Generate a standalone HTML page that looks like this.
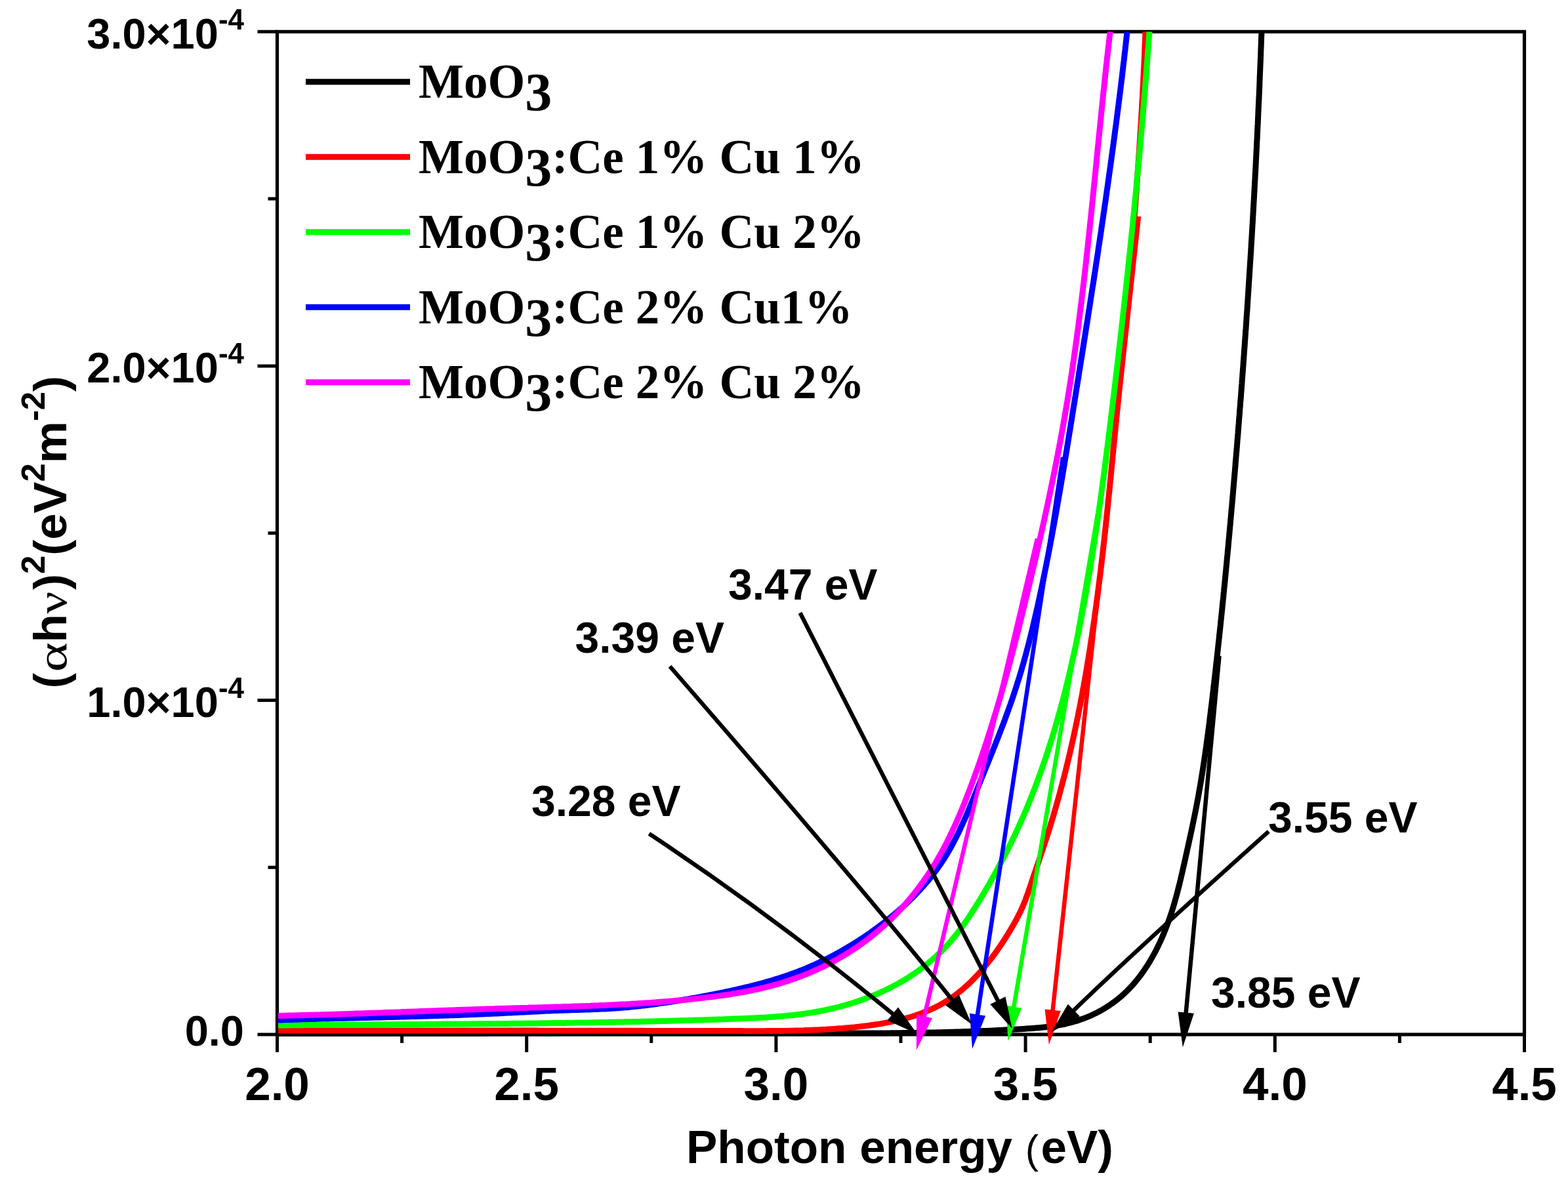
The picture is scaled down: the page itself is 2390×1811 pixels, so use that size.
<!DOCTYPE html><html><head><meta charset="utf-8"><style>html,body{margin:0;padding:0;background:#fff;}svg{display:block;}.s{font-family:"Liberation Sans",Arial,sans-serif;font-weight:bold;}.t{font-family:"Liberation Serif","Times New Roman",serif;font-weight:bold;}</style></head><body>
<svg width="2390" height="1811" viewBox="0 0 2390 1811">
<rect width="2390" height="1811" fill="#fff"/>
<rect x="422.5" y="48.3" width="1901.0" height="1528.7" fill="none" stroke="#000" stroke-width="5.2"/>
<path d="M422.5,1577.0V1604.0 M612.6,1577.0V1590.0 M802.7,1577.0V1604.0 M992.8,1577.0V1590.0 M1182.9,1577.0V1604.0 M1373.0,1577.0V1590.0 M1563.1,1577.0V1604.0 M1753.2,1577.0V1590.0 M1943.3,1577.0V1604.0 M2133.4,1577.0V1590.0 M2323.5,1577.0V1604.0 M422.5,1577.0H392.5 M422.5,1322.2H408.5 M422.5,1067.4H392.5 M422.5,812.7H408.5 M422.5,557.9H392.5 M422.5,303.1H408.5 M422.5,48.3H392.5" stroke="#000" stroke-width="5" fill="none"/>
<defs><clipPath id="pc"><rect x="422.5" y="48.3" width="1901.0" height="1568.7"/></clipPath></defs>
<g clip-path="url(#pc)" fill="none" stroke-linejoin="round" stroke-linecap="butt">
<path d="M424.0,1575.5 L428.7,1575.5 L433.4,1575.5 L438.0,1575.5 L442.7,1575.5 L447.4,1575.5 L452.0,1575.5 L456.7,1575.5 L461.4,1575.5 L466.1,1575.5 L470.7,1575.5 L475.4,1575.5 L480.1,1575.5 L484.7,1575.6 L489.4,1575.6 L494.1,1575.6 L498.8,1575.6 L503.4,1575.6 L508.1,1575.6 L512.8,1575.6 L517.5,1575.6 L522.1,1575.6 L526.8,1575.6 L531.5,1575.6 L536.2,1575.6 L540.8,1575.6 L545.5,1575.6 L550.2,1575.6 L554.9,1575.6 L559.5,1575.6 L564.2,1575.6 L568.9,1575.6 L573.6,1575.6 L578.2,1575.6 L582.9,1575.6 L587.6,1575.6 L592.3,1575.6 L596.9,1575.5 L601.6,1575.5 L606.3,1575.5 L611.0,1575.5 L615.6,1575.5 L620.3,1575.5 L625.0,1575.5 L629.7,1575.5 L634.3,1575.5 L639.0,1575.5 L643.7,1575.5 L648.4,1575.5 L653.0,1575.5 L657.7,1575.5 L662.4,1575.5 L667.1,1575.5 L671.8,1575.5 L676.4,1575.5 L681.1,1575.5 L685.8,1575.4 L690.5,1575.4 L695.1,1575.4 L699.8,1575.4 L704.5,1575.4 L709.2,1575.4 L713.8,1575.4 L718.5,1575.4 L723.2,1575.4 L727.9,1575.4 L732.6,1575.4 L737.2,1575.4 L741.9,1575.4 L746.6,1575.3 L751.3,1575.3 L755.9,1575.3 L760.6,1575.3 L765.3,1575.3 L770.0,1575.3 L774.7,1575.3 L779.3,1575.3 L784.0,1575.3 L788.7,1575.3 L793.4,1575.3 L798.0,1575.2 L802.7,1575.2 L807.4,1575.2 L812.1,1575.2 L816.8,1575.2 L821.4,1575.2 L826.1,1575.2 L830.8,1575.2 L835.5,1575.2 L840.1,1575.2 L844.8,1575.2 L849.5,1575.2 L854.2,1575.1 L858.8,1575.1 L863.5,1575.1 L868.2,1575.1 L872.9,1575.1 L877.6,1575.1 L882.2,1575.1 L886.9,1575.1 L891.6,1575.1 L896.3,1575.1 L900.9,1575.1 L905.6,1575.1 L910.3,1575.0 L915.0,1575.0 L919.7,1575.0 L924.3,1575.0 L929.0,1575.0 L933.7,1575.0 L938.4,1575.0 L943.0,1575.0 L947.7,1575.0 L952.4,1575.0 L957.1,1575.0 L961.7,1575.0 L966.4,1575.0 L971.1,1575.0 L975.8,1575.0 L980.4,1574.9 L985.1,1574.9 L989.8,1574.9 L994.5,1574.9 L999.1,1574.9 L1003.8,1574.9 L1008.5,1574.9 L1013.2,1574.9 L1017.9,1574.9 L1022.5,1574.9 L1027.2,1574.9 L1031.9,1574.9 L1036.6,1574.9 L1041.2,1574.9 L1045.9,1574.9 L1050.6,1574.9 L1055.3,1574.9 L1059.9,1574.9 L1064.6,1574.9 L1069.3,1574.9 L1074.0,1574.9 L1078.6,1574.9 L1083.3,1574.9 L1088.0,1574.9 L1092.6,1574.9 L1097.3,1574.9 L1102.0,1574.9 L1106.7,1574.9 L1111.3,1574.9 L1116.0,1574.9 L1120.7,1574.9 L1125.4,1574.9 L1130.0,1574.9 L1134.7,1574.9 L1139.4,1574.9 L1144.1,1574.9 L1148.7,1574.9 L1153.4,1574.9 L1158.1,1574.9 L1162.7,1574.9 L1167.4,1574.9 L1172.1,1574.9 L1176.8,1575.0 L1181.4,1575.0 L1186.1,1575.0 L1190.8,1575.0 L1195.4,1575.0 L1200.1,1575.0 L1204.8,1575.0 L1209.5,1575.0 L1214.1,1575.0 L1218.8,1575.0 L1223.5,1575.0 L1228.1,1575.1 L1232.8,1575.1 L1237.5,1575.1 L1242.1,1575.1 L1246.8,1575.1 L1251.5,1575.1 L1256.2,1575.1 L1260.8,1575.1 L1265.5,1575.1 L1270.2,1575.1 L1274.8,1575.1 L1279.5,1575.1 L1284.2,1575.1 L1288.8,1575.1 L1293.5,1575.1 L1298.2,1575.1 L1302.9,1575.1 L1307.5,1575.1 L1312.2,1575.1 L1316.9,1575.1 L1321.5,1575.1 L1326.2,1575.0 L1330.9,1575.0 L1335.6,1575.0 L1340.2,1575.0 L1344.9,1574.9 L1349.6,1574.9 L1354.2,1574.9 L1358.9,1574.8 L1363.6,1574.8 L1368.3,1574.7 L1372.9,1574.7 L1377.6,1574.6 L1382.3,1574.6 L1387.0,1574.5 L1391.6,1574.4 L1396.3,1574.4 L1401.0,1574.3 L1405.7,1574.2 L1410.4,1574.1 L1415.0,1574.1 L1419.7,1574.0 L1424.4,1573.9 L1429.1,1573.8 L1433.7,1573.7 L1438.4,1573.5 L1443.1,1573.4 L1447.8,1573.3 L1452.5,1573.2 L1457.2,1573.0 L1461.8,1572.9 L1466.5,1572.8 L1471.2,1572.6 L1475.9,1572.4 L1480.6,1572.3 L1485.3,1572.1 L1490.0,1571.9 L1494.6,1571.7 L1499.3,1571.6 L1504.0,1571.4 L1508.7,1571.2 L1513.4,1570.9 L1518.1,1570.7 L1522.8,1570.5 L1527.5,1570.3 L1532.2,1570.0 L1536.9,1569.8 L1541.6,1569.5 L1546.3,1569.3 L1551.0,1569.0 L1555.7,1568.7 L1560.4,1568.4 L1565.1,1568.1 L1569.8,1567.8 L1574.5,1567.4 L1579.1,1567.1 L1583.8,1566.7 L1588.5,1566.2 L1593.1,1565.7 L1597.8,1565.2 L1602.4,1564.6 L1607.0,1563.9 L1611.6,1563.2 L1616.2,1562.3 L1620.7,1561.5 L1625.3,1560.5 L1629.8,1559.4 L1634.2,1558.2 L1638.7,1557.0 L1643.1,1555.6 L1647.5,1554.1 L1651.8,1552.6 L1656.1,1550.9 L1660.4,1549.1 L1664.6,1547.3 L1668.7,1545.3 L1672.9,1543.2 L1676.9,1541.1 L1680.9,1538.8 L1684.9,1536.4 L1688.8,1534.0 L1692.6,1531.4 L1696.3,1528.8 L1700.0,1526.1 L1703.6,1523.2 L1707.2,1520.3 L1710.7,1517.3 L1714.0,1514.2 L1717.4,1511.0 L1720.6,1507.8 L1723.8,1504.4 L1726.9,1501.0 L1729.9,1497.5 L1732.9,1493.9 L1735.8,1490.3 L1738.6,1486.6 L1741.3,1482.8 L1744.0,1479.0 L1746.6,1475.1 L1749.2,1471.2 L1751.7,1467.2 L1754.1,1463.1 L1756.4,1459.0 L1758.7,1454.9 L1761.0,1450.7 L1763.1,1446.5 L1765.2,1442.2 L1767.3,1437.9 L1769.3,1433.6 L1771.2,1429.3 L1773.1,1424.9 L1774.9,1420.5 L1776.7,1416.1 L1778.4,1411.7 L1780.1,1407.2 L1781.7,1402.8 L1783.2,1398.3 L1784.7,1393.8 L1786.2,1389.3 L1787.6,1384.9 L1788.9,1380.4 L1790.3,1375.9 L1791.5,1371.4 L1792.8,1366.9 L1794.0,1362.4 L1795.2,1357.9 L1796.3,1353.4 L1797.5,1348.8 L1798.6,1344.3 L1799.7,1339.8 L1800.7,1335.3 L1801.8,1330.7 L1802.8,1326.2 L1803.8,1321.7 L1804.9,1317.1 L1805.9,1312.6 L1806.9,1308.1 L1807.9,1303.5 L1808.9,1299.0 L1809.9,1294.4 L1810.9,1289.9 L1811.9,1285.3 L1812.9,1280.8 L1813.9,1276.2 L1814.9,1271.7 L1815.9,1267.1 L1816.9,1262.6 L1817.8,1258.0 L1818.8,1253.4 L1819.7,1248.9 L1820.6,1244.3 L1821.6,1239.7 L1822.5,1235.2 L1823.4,1230.6 L1824.2,1226.0 L1825.1,1221.4 L1826.0,1216.8 L1826.8,1212.2 L1827.6,1207.6 L1828.4,1203.0 L1829.2,1198.4 L1830.0,1193.8 L1830.8,1189.2 L1831.5,1184.6 L1832.3,1180.0 L1833.0,1175.4 L1833.7,1170.8 L1834.4,1166.2 L1835.1,1161.6 L1835.8,1156.9 L1836.5,1152.3 L1837.2,1147.7 L1837.8,1143.1 L1838.5,1138.4 L1839.1,1133.8 L1839.7,1129.2 L1840.3,1124.5 L1841.0,1119.9 L1841.6,1115.3 L1842.2,1110.6 L1842.8,1106.0 L1843.4,1101.4 L1843.9,1096.7 L1844.5,1092.1 L1845.1,1087.4 L1845.6,1082.8 L1846.2,1078.1 L1846.8,1073.5 L1847.3,1068.9 L1847.9,1064.2 L1848.4,1059.6 L1849.0,1054.9 L1849.5,1050.3 L1850.0,1045.6 L1850.6,1041.0 L1851.1,1036.3 L1851.6,1031.7 L1852.2,1027.0 L1852.7,1022.4 L1853.2,1017.7 L1853.7,1013.1 L1854.2,1008.5 L1854.8,1003.8 L1855.3,999.2 L1855.8,994.5 L1856.3,989.9 L1856.8,985.2 L1857.3,980.6 L1857.8,975.9 L1858.3,971.3 L1858.8,966.6 L1859.3,962.0 L1859.8,957.3 L1860.3,952.7 L1860.7,948.0 L1861.2,943.4 L1861.7,938.7 L1862.2,934.1 L1862.7,929.4 L1863.1,924.8 L1863.6,920.1 L1864.1,915.5 L1864.6,910.8 L1865.0,906.1 L1865.5,901.5 L1865.9,896.8 L1866.4,892.2 L1866.9,887.5 L1867.3,882.9 L1867.8,878.2 L1868.2,873.6 L1868.7,868.9 L1869.1,864.3 L1869.6,859.6 L1870.0,855.0 L1870.4,850.3 L1870.9,845.7 L1871.3,841.0 L1871.8,836.3 L1872.2,831.7 L1872.6,827.0 L1873.0,822.4 L1873.5,817.7 L1873.9,813.1 L1874.3,808.4 L1874.7,803.8 L1875.2,799.1 L1875.6,794.4 L1876.0,789.8 L1876.4,785.1 L1876.8,780.5 L1877.2,775.8 L1877.7,771.2 L1878.1,766.5 L1878.5,761.8 L1878.9,757.2 L1879.3,752.5 L1879.7,747.9 L1880.1,743.2 L1880.5,738.6 L1880.9,733.9 L1881.3,729.2 L1881.7,724.6 L1882.1,719.9 L1882.5,715.3 L1882.9,710.6 L1883.2,705.9 L1883.6,701.3 L1884.0,696.6 L1884.4,692.0 L1884.8,687.3 L1885.2,682.7 L1885.6,678.0 L1885.9,673.3 L1886.3,668.7 L1886.7,664.0 L1887.1,659.4 L1887.4,654.7 L1887.8,650.0 L1888.2,645.4 L1888.5,640.7 L1888.9,636.1 L1889.3,631.4 L1889.6,626.7 L1890.0,622.1 L1890.4,617.4 L1890.7,612.7 L1891.1,608.1 L1891.5,603.4 L1891.8,598.8 L1892.2,594.1 L1892.5,589.4 L1892.9,584.8 L1893.2,580.1 L1893.6,575.5 L1893.9,570.8 L1894.3,566.1 L1894.6,561.5 L1895.0,556.8 L1895.3,552.1 L1895.6,547.5 L1896.0,542.8 L1896.3,538.2 L1896.6,533.5 L1897.0,528.8 L1897.3,524.2 L1897.6,519.5 L1898.0,514.8 L1898.3,510.2 L1898.6,505.5 L1899.0,500.9 L1899.3,496.2 L1899.6,491.5 L1899.9,486.9 L1900.2,482.2 L1900.6,477.5 L1900.9,472.9 L1901.2,468.2 L1901.5,463.5 L1901.8,458.9 L1902.1,454.2 L1902.4,449.5 L1902.7,444.9 L1903.0,440.2 L1903.3,435.5 L1903.6,430.9 L1903.9,426.2 L1904.2,421.6 L1904.5,416.9 L1904.8,412.2 L1905.1,407.6 L1905.4,402.9 L1905.7,398.2 L1906.0,393.6 L1906.3,388.9 L1906.6,384.2 L1906.9,379.6 L1907.1,374.9 L1907.4,370.2 L1907.7,365.6 L1908.0,360.9 L1908.3,356.2 L1908.5,351.6 L1908.8,346.9 L1909.1,342.2 L1909.4,337.6 L1909.6,332.9 L1909.9,328.2 L1910.2,323.6 L1910.4,318.9 L1910.7,314.2 L1910.9,309.6 L1911.2,304.9 L1911.5,300.2 L1911.7,295.5 L1912.0,290.9 L1912.2,286.2 L1912.5,281.5 L1912.7,276.9 L1913.0,272.2 L1913.2,267.5 L1913.5,262.9 L1913.7,258.2 L1914.0,253.5 L1914.2,248.9 L1914.4,244.2 L1914.7,239.5 L1914.9,234.9 L1915.1,230.2 L1915.4,225.5 L1915.6,220.8 L1915.8,216.2 L1916.1,211.5 L1916.3,206.8 L1916.5,202.2 L1916.7,197.5 L1916.9,192.8 L1917.2,188.2 L1917.4,183.5 L1917.6,178.8 L1917.8,174.1 L1918.0,169.5 L1918.2,164.8 L1918.4,160.1 L1918.6,155.5 L1918.9,150.8 L1919.1,146.1 L1919.3,141.4 L1919.5,136.8 L1919.7,132.1 L1919.9,127.4 L1920.0,122.8 L1920.2,118.1 L1920.4,113.4 L1920.6,108.7 L1920.8,104.1 L1921.0,99.4 L1921.2,94.7 L1921.4,90.1 L1921.6,85.4 L1921.7,80.7 L1921.9,76.0 L1922.1,71.4 L1922.3,66.7 L1922.4,62.0 L1922.6,57.3 L1922.8,52.7 L1922.9,48.0" stroke="#000000" stroke-width="9.0"/>
<path d="M424.0,1571.0 L428.3,1571.0 L432.6,1571.0 L436.9,1571.0 L441.1,1571.0 L445.4,1571.0 L449.7,1571.0 L454.0,1571.0 L458.3,1571.0 L462.6,1571.0 L466.8,1571.0 L471.1,1571.0 L475.4,1571.0 L479.7,1571.0 L484.0,1571.0 L488.3,1571.0 L492.5,1571.0 L496.8,1571.0 L501.1,1571.0 L505.4,1571.0 L509.7,1571.0 L514.0,1571.0 L518.2,1571.0 L522.5,1571.0 L526.8,1571.0 L531.1,1571.0 L535.4,1571.0 L539.7,1571.0 L543.9,1571.0 L548.2,1571.0 L552.5,1571.0 L556.8,1571.0 L561.1,1571.0 L565.4,1571.0 L569.7,1571.0 L573.9,1571.0 L578.2,1571.0 L582.5,1571.0 L586.8,1571.0 L591.1,1571.0 L595.4,1571.0 L599.6,1571.0 L603.9,1571.0 L608.2,1571.0 L612.5,1571.0 L616.8,1571.0 L621.1,1571.0 L625.3,1571.0 L629.6,1571.0 L633.9,1571.0 L638.2,1571.0 L642.5,1571.0 L646.8,1571.0 L651.1,1571.0 L655.3,1571.0 L659.6,1571.1 L663.9,1571.1 L668.2,1571.1 L672.5,1571.1 L676.8,1571.1 L681.0,1571.1 L685.3,1571.1 L689.6,1571.1 L693.9,1571.1 L698.2,1571.1 L702.5,1571.1 L706.7,1571.1 L711.0,1571.1 L715.3,1571.1 L719.6,1571.1 L723.9,1571.1 L728.2,1571.1 L732.5,1571.1 L736.7,1571.1 L741.0,1571.1 L745.3,1571.1 L749.6,1571.1 L753.9,1571.1 L758.2,1571.1 L762.4,1571.1 L766.7,1571.1 L771.0,1571.1 L775.3,1571.1 L779.6,1571.1 L783.9,1571.1 L788.2,1571.1 L792.4,1571.1 L796.7,1571.1 L801.0,1571.1 L805.3,1571.1 L809.6,1571.1 L813.9,1571.1 L818.1,1571.1 L822.4,1571.2 L826.7,1571.2 L831.0,1571.2 L835.3,1571.2 L839.6,1571.2 L843.9,1571.2 L848.1,1571.2 L852.4,1571.2 L856.7,1571.2 L861.0,1571.2 L865.3,1571.2 L869.6,1571.2 L873.8,1571.2 L878.1,1571.2 L882.4,1571.2 L886.7,1571.2 L891.0,1571.2 L895.3,1571.2 L899.5,1571.2 L903.8,1571.2 L908.1,1571.2 L912.4,1571.2 L916.7,1571.3 L921.0,1571.3 L925.3,1571.3 L929.5,1571.3 L933.8,1571.3 L938.1,1571.3 L942.4,1571.3 L946.7,1571.3 L951.0,1571.3 L955.2,1571.3 L959.5,1571.3 L963.8,1571.3 L968.1,1571.3 L972.4,1571.3 L976.7,1571.3 L980.9,1571.3 L985.2,1571.4 L989.5,1571.4 L993.8,1571.4 L998.1,1571.4 L1002.4,1571.4 L1006.6,1571.4 L1010.9,1571.4 L1015.2,1571.4 L1019.5,1571.4 L1023.8,1571.4 L1028.1,1571.4 L1032.3,1571.4 L1036.6,1571.4 L1040.9,1571.4 L1045.2,1571.5 L1049.5,1571.5 L1053.8,1571.5 L1058.0,1571.5 L1062.3,1571.5 L1066.6,1571.5 L1070.9,1571.5 L1075.2,1571.5 L1079.5,1571.5 L1083.7,1571.5 L1088.0,1571.5 L1092.3,1571.6 L1096.6,1571.6 L1100.9,1571.6 L1105.2,1571.6 L1109.4,1571.6 L1113.7,1571.6 L1118.0,1571.6 L1122.3,1571.6 L1126.6,1571.6 L1130.9,1571.6 L1135.1,1571.7 L1139.4,1571.7 L1143.7,1571.7 L1148.0,1571.7 L1152.3,1571.7 L1156.6,1571.7 L1160.8,1571.7 L1165.1,1571.7 L1169.4,1571.6 L1173.7,1571.6 L1178.0,1571.6 L1182.2,1571.6 L1186.5,1571.5 L1190.8,1571.5 L1195.1,1571.4 L1199.4,1571.4 L1203.7,1571.3 L1207.9,1571.2 L1212.2,1571.1 L1216.5,1571.0 L1220.8,1570.9 L1225.1,1570.8 L1229.3,1570.6 L1233.6,1570.5 L1237.9,1570.3 L1242.2,1570.1 L1246.5,1569.9 L1250.7,1569.7 L1255.0,1569.5 L1259.3,1569.3 L1263.6,1569.0 L1267.9,1568.7 L1272.2,1568.4 L1276.4,1568.1 L1280.7,1567.8 L1285.0,1567.5 L1289.3,1567.1 L1293.6,1566.7 L1297.8,1566.3 L1302.1,1565.9 L1306.4,1565.4 L1310.7,1564.9 L1314.9,1564.4 L1319.2,1563.9 L1323.5,1563.4 L1327.8,1562.8 L1332.0,1562.2 L1336.3,1561.5 L1340.6,1560.9 L1344.8,1560.2 L1349.0,1559.4 L1353.2,1558.6 L1357.5,1557.8 L1361.6,1556.9 L1365.8,1556.0 L1370.0,1555.0 L1374.1,1554.0 L1378.2,1553.0 L1382.3,1551.9 L1386.4,1550.7 L1390.5,1549.5 L1394.5,1548.2 L1398.5,1546.8 L1402.5,1545.4 L1406.4,1543.9 L1410.3,1542.4 L1414.2,1540.8 L1418.1,1539.1 L1421.9,1537.4 L1425.7,1535.6 L1429.4,1533.7 L1433.1,1531.7 L1436.8,1529.6 L1440.4,1527.5 L1444.0,1525.3 L1447.5,1523.0 L1451.0,1520.6 L1454.5,1518.2 L1457.9,1515.6 L1461.2,1513.0 L1464.6,1510.3 L1467.8,1507.6 L1471.1,1504.7 L1474.3,1501.9 L1477.4,1498.9 L1480.5,1495.9 L1483.6,1492.8 L1486.6,1489.7 L1489.6,1486.6 L1492.5,1483.4 L1495.4,1480.1 L1498.3,1476.8 L1501.1,1473.4 L1503.9,1470.1 L1506.6,1466.6 L1509.3,1463.2 L1512.0,1459.7 L1514.6,1456.2 L1517.2,1452.7 L1519.7,1449.1 L1522.2,1445.5 L1524.7,1441.9 L1527.1,1438.3 L1529.5,1434.7 L1531.8,1431.1 L1534.1,1427.4 L1536.4,1423.8 L1538.6,1420.1 L1540.8,1416.5 L1542.9,1412.8 L1545.0,1409.2 L1547.1,1405.5 L1549.1,1401.8 L1551.0,1398.2 L1552.9,1394.4 L1554.8,1390.7 L1556.6,1386.9 L1558.3,1383.2 L1559.9,1379.3 L1561.5,1375.5 L1563.1,1371.6 L1564.5,1367.6 L1566.0,1363.7 L1567.4,1359.7 L1568.7,1355.7 L1570.1,1351.7 L1571.5,1347.6 L1572.8,1343.6 L1574.2,1339.5 L1575.5,1335.5 L1576.9,1331.4 L1578.3,1327.4 L1579.7,1323.3 L1581.1,1319.2 L1582.5,1315.2 L1583.9,1311.1 L1585.2,1307.0 L1586.6,1302.9 L1588.0,1298.8 L1589.4,1294.8 L1590.7,1290.7 L1592.1,1286.6 L1593.4,1282.5 L1594.8,1278.4 L1596.1,1274.3 L1597.4,1270.2 L1598.7,1266.1 L1600.0,1262.0 L1601.2,1257.8 L1602.5,1253.7 L1603.7,1249.6 L1605.0,1245.5 L1606.2,1241.4 L1607.4,1237.3 L1608.6,1233.1 L1609.8,1229.0 L1610.9,1224.9 L1612.1,1220.7 L1613.3,1216.6 L1614.4,1212.5 L1615.5,1208.3 L1616.6,1204.2 L1617.7,1200.1 L1618.8,1195.9 L1619.9,1191.8 L1621.0,1187.6 L1622.1,1183.5 L1623.1,1179.3 L1624.2,1175.2 L1625.2,1171.0 L1626.2,1166.9 L1627.2,1162.7 L1628.2,1158.5 L1629.2,1154.4 L1630.2,1150.2 L1631.2,1146.0 L1632.1,1141.9 L1633.1,1137.7 L1634.0,1133.5 L1635.0,1129.3 L1635.9,1125.2 L1636.8,1121.0 L1637.7,1116.8 L1638.6,1112.6 L1639.5,1108.4 L1640.4,1104.3 L1641.2,1100.1 L1642.1,1095.9 L1643.0,1091.7 L1643.8,1087.5 L1644.6,1083.3 L1645.5,1079.1 L1646.3,1074.9 L1647.1,1070.7 L1647.9,1066.5 L1648.7,1062.3 L1649.5,1058.1 L1650.2,1053.9 L1651.0,1049.7 L1651.8,1045.5 L1652.5,1041.3 L1653.3,1037.1 L1654.0,1032.9 L1654.8,1028.6 L1655.5,1024.4 L1656.2,1020.2 L1656.9,1016.0 L1657.6,1011.8 L1658.3,1007.6 L1659.0,1003.3 L1659.7,999.1 L1660.3,994.9 L1661.0,990.7 L1661.7,986.4 L1662.3,982.2 L1663.0,978.0 L1663.6,973.7 L1664.3,969.5 L1664.9,965.3 L1665.5,961.1 L1666.1,956.8 L1666.7,952.6 L1667.4,948.3 L1668.0,944.1 L1668.5,939.9 L1669.1,935.6 L1669.7,931.4 L1670.3,927.1 L1670.9,922.9 L1671.4,918.7 L1672.0,914.4 L1672.6,910.2 L1673.1,905.9 L1673.7,901.7 L1674.2,897.4 L1674.7,893.2 L1675.3,888.9 L1675.8,884.7 L1676.3,880.4 L1676.9,876.2 L1677.4,871.9 L1677.9,867.7 L1678.4,863.4 L1678.9,859.2 L1679.4,854.9 L1679.9,850.6 L1680.4,846.4 L1680.9,842.1 L1681.4,837.9 L1681.8,833.6 L1682.3,829.4 L1682.8,825.1 L1683.3,820.8 L1683.7,816.6 L1684.2,812.3 L1684.7,808.1 L1685.1,803.8 L1685.6,799.5 L1686.0,795.3 L1686.5,791.0 L1686.9,786.7 L1687.4,782.5 L1687.8,778.2 L1688.3,773.9 L1688.7,769.7 L1689.1,765.4 L1689.6,761.1 L1690.0,756.9 L1690.4,752.6 L1690.9,748.4 L1691.3,744.1 L1691.7,739.8 L1692.1,735.5 L1692.6,731.3 L1693.0,727.0 L1693.4,722.7 L1693.8,718.5 L1694.2,714.2 L1694.6,709.9 L1695.1,705.7 L1695.5,701.4 L1695.9,697.1 L1696.3,692.9 L1696.7,688.6 L1697.1,684.3 L1697.5,680.1 L1698.0,675.8 L1698.4,671.5 L1698.8,667.3 L1699.2,663.0 L1699.6,658.7 L1700.0,654.5 L1700.4,650.2 L1700.8,645.9 L1701.2,641.7 L1701.6,637.4 L1702.1,633.1 L1702.5,628.9 L1702.9,624.6 L1703.3,620.3 L1703.7,616.1 L1704.1,611.8 L1704.5,607.5 L1704.9,603.3 L1705.3,599.0 L1705.7,594.7 L1706.1,590.5 L1706.5,586.2 L1706.9,581.9 L1707.3,577.7 L1707.8,573.4 L1708.2,569.1 L1708.6,564.9 L1709.0,560.6 L1709.4,556.3 L1709.8,552.1 L1710.2,547.8 L1710.6,543.5 L1711.0,539.3 L1711.4,535.0 L1711.8,530.8 L1712.2,526.5 L1712.6,522.2 L1712.9,518.0 L1713.3,513.7 L1713.7,509.4 L1714.1,505.2 L1714.5,500.9 L1714.9,496.6 L1715.3,492.4 L1715.7,488.1 L1716.1,483.8 L1716.5,479.6 L1716.8,475.3 L1717.2,471.0 L1717.6,466.8 L1718.0,462.5 L1718.4,458.2 L1718.8,454.0 L1719.1,449.7 L1719.5,445.4 L1719.9,441.2 L1720.3,436.9 L1720.6,432.6 L1721.0,428.4 L1721.4,424.1 L1721.7,419.9 L1722.1,415.6 L1722.5,411.3 L1722.8,407.1 L1723.2,402.8 L1723.6,398.5 L1723.9,394.3 L1724.3,390.0 L1724.7,385.7 L1725.0,381.5 L1725.4,377.2 L1725.7,372.9 L1726.1,368.7 L1726.4,364.4 L1726.8,360.1 L1727.1,355.8 L1727.5,351.6 L1727.8,347.3 L1728.1,343.0 L1728.5,338.8 L1728.8,334.5 L1729.1,330.2 L1729.5,326.0 L1729.8,321.7 L1730.1,317.4 L1730.5,313.2 L1730.8,308.9 L1731.1,304.6 L1731.4,300.4 L1731.8,296.1 L1732.1,291.8 L1732.4,287.5 L1732.7,283.3 L1733.0,279.0 L1733.3,274.7 L1733.6,270.5 L1733.9,266.2 L1734.2,261.9 L1734.5,257.6 L1734.8,253.4 L1735.1,249.1 L1735.4,244.8 L1735.7,240.6 L1736.0,236.3 L1736.3,232.0 L1736.6,227.7 L1736.8,223.5 L1737.1,219.2 L1737.4,214.9 L1737.7,210.6 L1737.9,206.4 L1738.2,202.1 L1738.5,197.8 L1738.7,193.5 L1739.0,189.3 L1739.3,185.0 L1739.5,180.7 L1739.8,176.4 L1740.0,172.2 L1740.3,167.9 L1740.5,163.6 L1740.7,159.3 L1741.0,155.1 L1741.2,150.8 L1741.5,146.5 L1741.7,142.2 L1741.9,137.9 L1742.1,133.7 L1742.4,129.4 L1742.6,125.1 L1742.8,120.8 L1743.0,116.5 L1743.2,112.3 L1743.4,108.0 L1743.6,103.7 L1743.8,99.4 L1744.0,95.1 L1744.2,90.8 L1744.4,86.6 L1744.6,82.3 L1744.8,78.0 L1744.9,73.7 L1745.1,69.4 L1745.3,65.1 L1745.5,60.8 L1745.6,56.6 L1745.8,52.3 L1745.9,48.0" stroke="#FF0000" stroke-width="9.0"/>
<path d="M424.0,1563.0 L428.2,1563.0 L432.3,1562.9 L436.5,1562.9 L440.7,1562.9 L444.8,1562.8 L449.0,1562.8 L453.1,1562.7 L457.3,1562.7 L461.5,1562.7 L465.6,1562.6 L469.8,1562.6 L474.0,1562.5 L478.1,1562.5 L482.3,1562.5 L486.4,1562.4 L490.6,1562.4 L494.8,1562.4 L498.9,1562.3 L503.1,1562.3 L507.3,1562.3 L511.4,1562.2 L515.6,1562.2 L519.8,1562.2 L523.9,1562.1 L528.1,1562.1 L532.3,1562.1 L536.4,1562.0 L540.6,1562.0 L544.7,1562.0 L548.9,1562.0 L553.1,1561.9 L557.2,1561.9 L561.4,1561.9 L565.6,1561.8 L569.7,1561.8 L573.9,1561.8 L578.1,1561.8 L582.2,1561.7 L586.4,1561.7 L590.6,1561.7 L594.7,1561.7 L598.9,1561.6 L603.1,1561.6 L607.2,1561.6 L611.4,1561.6 L615.6,1561.5 L619.7,1561.5 L623.9,1561.5 L628.0,1561.4 L632.2,1561.4 L636.4,1561.4 L640.5,1561.4 L644.7,1561.3 L648.9,1561.3 L653.0,1561.3 L657.2,1561.3 L661.4,1561.2 L665.5,1561.2 L669.7,1561.2 L673.9,1561.1 L678.0,1561.1 L682.2,1561.1 L686.4,1561.1 L690.5,1561.0 L694.7,1561.0 L698.9,1561.0 L703.0,1560.9 L707.2,1560.9 L711.4,1560.9 L715.5,1560.9 L719.7,1560.8 L723.9,1560.8 L728.0,1560.8 L732.2,1560.7 L736.4,1560.7 L740.5,1560.7 L744.7,1560.6 L748.9,1560.6 L753.0,1560.6 L757.2,1560.5 L761.3,1560.5 L765.5,1560.4 L769.7,1560.4 L773.8,1560.4 L778.0,1560.3 L782.2,1560.3 L786.3,1560.2 L790.5,1560.2 L794.7,1560.2 L798.8,1560.1 L803.0,1560.1 L807.2,1560.0 L811.3,1560.0 L815.5,1559.9 L819.7,1559.9 L823.8,1559.8 L828.0,1559.8 L832.2,1559.7 L836.3,1559.7 L840.5,1559.6 L844.7,1559.6 L848.8,1559.5 L853.0,1559.5 L857.2,1559.4 L861.3,1559.4 L865.5,1559.3 L869.6,1559.3 L873.8,1559.2 L878.0,1559.1 L882.1,1559.1 L886.3,1559.0 L890.5,1558.9 L894.6,1558.9 L898.8,1558.8 L903.0,1558.7 L907.1,1558.7 L911.3,1558.6 L915.5,1558.5 L919.6,1558.5 L923.8,1558.4 L927.9,1558.3 L932.1,1558.2 L936.3,1558.2 L940.4,1558.1 L944.6,1558.0 L948.8,1557.9 L952.9,1557.8 L957.1,1557.8 L961.3,1557.7 L965.4,1557.6 L969.6,1557.5 L973.7,1557.4 L977.9,1557.3 L982.1,1557.2 L986.2,1557.1 L990.4,1557.0 L994.6,1556.9 L998.7,1556.8 L1002.9,1556.7 L1007.1,1556.6 L1011.2,1556.5 L1015.4,1556.4 L1019.5,1556.3 L1023.7,1556.2 L1027.9,1556.1 L1032.0,1556.0 L1036.2,1555.8 L1040.3,1555.7 L1044.5,1555.6 L1048.7,1555.5 L1052.8,1555.4 L1057.0,1555.2 L1061.2,1555.1 L1065.3,1555.0 L1069.5,1554.9 L1073.6,1554.7 L1077.8,1554.6 L1082.0,1554.5 L1086.1,1554.3 L1090.3,1554.2 L1094.4,1554.0 L1098.6,1553.9 L1102.8,1553.8 L1106.9,1553.6 L1111.1,1553.5 L1115.2,1553.3 L1119.4,1553.1 L1123.6,1553.0 L1127.7,1552.8 L1131.9,1552.7 L1136.0,1552.5 L1140.2,1552.3 L1144.3,1552.1 L1148.5,1551.9 L1152.7,1551.7 L1156.8,1551.5 L1161.0,1551.3 L1165.1,1551.1 L1169.3,1550.8 L1173.4,1550.5 L1177.6,1550.2 L1181.7,1549.9 L1185.8,1549.6 L1190.0,1549.3 L1194.1,1548.9 L1198.3,1548.5 L1202.4,1548.1 L1206.5,1547.7 L1210.7,1547.2 L1214.8,1546.7 L1218.9,1546.2 L1223.0,1545.7 L1227.1,1545.1 L1231.3,1544.5 L1235.4,1543.9 L1239.5,1543.2 L1243.6,1542.5 L1247.7,1541.8 L1251.8,1541.0 L1255.9,1540.2 L1259.9,1539.3 L1264.0,1538.4 L1268.1,1537.5 L1272.2,1536.5 L1276.2,1535.5 L1280.3,1534.5 L1284.3,1533.4 L1288.4,1532.3 L1292.4,1531.1 L1296.4,1529.9 L1300.4,1528.7 L1304.4,1527.4 L1308.4,1526.1 L1312.3,1524.7 L1316.3,1523.3 L1320.2,1521.8 L1324.1,1520.3 L1328.0,1518.8 L1331.9,1517.2 L1335.7,1515.6 L1339.6,1513.9 L1343.4,1512.2 L1347.2,1510.5 L1350.9,1508.7 L1354.7,1506.9 L1358.4,1505.0 L1362.1,1503.1 L1365.8,1501.1 L1369.4,1499.1 L1373.0,1497.0 L1376.6,1494.9 L1380.2,1492.8 L1383.7,1490.6 L1387.2,1488.4 L1390.7,1486.1 L1394.1,1483.8 L1397.5,1481.4 L1400.9,1479.0 L1404.2,1476.5 L1407.5,1474.0 L1410.7,1471.5 L1414.0,1468.9 L1417.1,1466.3 L1420.3,1463.6 L1423.4,1460.9 L1426.5,1458.1 L1429.5,1455.3 L1432.5,1452.5 L1435.4,1449.6 L1438.3,1446.6 L1441.2,1443.7 L1444.0,1440.7 L1446.7,1437.6 L1449.4,1434.5 L1452.1,1431.4 L1454.7,1428.2 L1457.3,1425.0 L1459.9,1421.7 L1462.4,1418.4 L1464.8,1415.1 L1467.3,1411.8 L1469.7,1408.4 L1472.0,1405.0 L1474.4,1401.6 L1476.7,1398.1 L1479.0,1394.6 L1481.2,1391.2 L1483.5,1387.7 L1485.7,1384.1 L1487.9,1380.6 L1490.1,1377.1 L1492.3,1373.5 L1494.5,1370.0 L1496.6,1366.4 L1498.8,1362.8 L1500.9,1359.2 L1503.0,1355.6 L1505.1,1352.0 L1507.2,1348.4 L1509.3,1344.8 L1511.3,1341.2 L1513.4,1337.5 L1515.4,1333.9 L1517.4,1330.2 L1519.5,1326.6 L1521.4,1322.9 L1523.4,1319.2 L1525.4,1315.5 L1527.3,1311.8 L1529.3,1308.1 L1531.2,1304.4 L1533.1,1300.7 L1535.0,1297.0 L1536.9,1293.2 L1538.7,1289.5 L1540.6,1285.8 L1542.4,1282.0 L1544.2,1278.3 L1546.0,1274.5 L1547.8,1270.7 L1549.5,1266.9 L1551.3,1263.2 L1553.0,1259.4 L1554.7,1255.6 L1556.4,1251.8 L1558.1,1248.0 L1559.8,1244.1 L1561.4,1240.3 L1563.1,1236.5 L1564.7,1232.7 L1566.3,1228.8 L1567.9,1225.0 L1569.4,1221.1 L1571.0,1217.3 L1572.5,1213.4 L1574.1,1209.5 L1575.6,1205.7 L1577.1,1201.8 L1578.5,1197.9 L1580.0,1194.0 L1581.5,1190.1 L1582.9,1186.2 L1584.3,1182.3 L1585.7,1178.4 L1587.1,1174.5 L1588.5,1170.6 L1589.9,1166.6 L1591.2,1162.7 L1592.6,1158.8 L1593.9,1154.8 L1595.2,1150.9 L1596.5,1147.0 L1597.8,1143.0 L1599.1,1139.1 L1600.3,1135.1 L1601.6,1131.1 L1602.8,1127.2 L1604.0,1123.2 L1605.3,1119.2 L1606.5,1115.2 L1607.6,1111.2 L1608.8,1107.3 L1610.0,1103.3 L1611.1,1099.3 L1612.3,1095.3 L1613.4,1091.3 L1614.5,1087.3 L1615.6,1083.3 L1616.7,1079.2 L1617.8,1075.2 L1618.9,1071.2 L1620.0,1067.2 L1621.0,1063.2 L1622.1,1059.1 L1623.1,1055.1 L1624.1,1051.1 L1625.1,1047.0 L1626.1,1043.0 L1627.1,1038.9 L1628.1,1034.9 L1629.1,1030.8 L1630.0,1026.8 L1631.0,1022.7 L1631.9,1018.7 L1632.9,1014.6 L1633.8,1010.6 L1634.7,1006.5 L1635.6,1002.4 L1636.5,998.4 L1637.4,994.3 L1638.3,990.2 L1639.2,986.2 L1640.1,982.1 L1640.9,978.0 L1641.8,973.9 L1642.6,969.8 L1643.4,965.8 L1644.3,961.7 L1645.1,957.6 L1645.9,953.5 L1646.7,949.4 L1647.5,945.3 L1648.3,941.2 L1649.1,937.2 L1649.9,933.1 L1650.6,929.0 L1651.4,924.9 L1652.2,920.8 L1652.9,916.7 L1653.7,912.6 L1654.4,908.5 L1655.1,904.4 L1655.9,900.3 L1656.6,896.2 L1657.3,892.1 L1658.0,888.0 L1658.7,883.9 L1659.4,879.8 L1660.1,875.7 L1660.8,871.6 L1661.5,867.4 L1662.2,863.3 L1662.8,859.2 L1663.5,855.1 L1664.2,851.0 L1664.8,846.9 L1665.5,842.8 L1666.1,838.7 L1666.8,834.6 L1667.4,830.4 L1668.0,826.3 L1668.7,822.2 L1669.3,818.1 L1669.9,814.0 L1670.5,809.8 L1671.1,805.7 L1671.7,801.6 L1672.3,797.5 L1672.9,793.4 L1673.5,789.2 L1674.1,785.1 L1674.7,781.0 L1675.3,776.9 L1675.9,772.7 L1676.4,768.6 L1677.0,764.5 L1677.6,760.4 L1678.2,756.2 L1678.7,752.1 L1679.3,748.0 L1679.8,743.9 L1680.4,739.7 L1680.9,735.6 L1681.5,731.5 L1682.0,727.3 L1682.6,723.2 L1683.1,719.1 L1683.6,715.0 L1684.2,710.8 L1684.7,706.7 L1685.2,702.6 L1685.8,698.4 L1686.3,694.3 L1686.8,690.2 L1687.3,686.0 L1687.9,681.9 L1688.4,677.8 L1688.9,673.6 L1689.4,669.5 L1689.9,665.4 L1690.4,661.2 L1691.0,657.1 L1691.5,653.0 L1692.0,648.8 L1692.5,644.7 L1693.0,640.6 L1693.5,636.4 L1694.0,632.3 L1694.5,628.2 L1695.0,624.0 L1695.5,619.9 L1696.0,615.7 L1696.5,611.6 L1697.0,607.5 L1697.5,603.3 L1698.0,599.2 L1698.5,595.1 L1699.0,590.9 L1699.5,586.8 L1700.0,582.7 L1700.5,578.5 L1700.9,574.4 L1701.4,570.3 L1701.9,566.1 L1702.4,562.0 L1702.9,557.8 L1703.4,553.7 L1703.9,549.6 L1704.3,545.4 L1704.8,541.3 L1705.3,537.2 L1705.8,533.0 L1706.3,528.9 L1706.7,524.8 L1707.2,520.6 L1707.7,516.5 L1708.1,512.3 L1708.6,508.2 L1709.1,504.1 L1709.6,499.9 L1710.0,495.8 L1710.5,491.6 L1711.0,487.5 L1711.4,483.4 L1711.9,479.2 L1712.3,475.1 L1712.8,471.0 L1713.3,466.8 L1713.7,462.7 L1714.2,458.5 L1714.6,454.4 L1715.1,450.3 L1715.5,446.1 L1716.0,442.0 L1716.4,437.8 L1716.9,433.7 L1717.3,429.6 L1717.8,425.4 L1718.2,421.3 L1718.7,417.1 L1719.1,413.0 L1719.5,408.9 L1720.0,404.7 L1720.4,400.6 L1720.9,396.4 L1721.3,392.3 L1721.7,388.1 L1722.2,384.0 L1722.6,379.9 L1723.0,375.7 L1723.4,371.6 L1723.9,367.4 L1724.3,363.3 L1724.7,359.2 L1725.1,355.0 L1725.6,350.9 L1726.0,346.7 L1726.4,342.6 L1726.8,338.4 L1727.2,334.3 L1727.6,330.1 L1728.1,326.0 L1728.5,321.9 L1728.9,317.7 L1729.3,313.6 L1729.7,309.4 L1730.1,305.3 L1730.5,301.1 L1730.9,297.0 L1731.3,292.9 L1731.7,288.7 L1732.1,284.6 L1732.5,280.4 L1732.9,276.3 L1733.3,272.1 L1733.7,268.0 L1734.1,263.8 L1734.4,259.7 L1734.8,255.5 L1735.2,251.4 L1735.6,247.2 L1736.0,243.1 L1736.4,239.0 L1736.7,234.8 L1737.1,230.7 L1737.5,226.5 L1737.9,222.4 L1738.2,218.2 L1738.6,214.1 L1739.0,209.9 L1739.3,205.8 L1739.7,201.6 L1740.1,197.5 L1740.4,193.3 L1740.8,189.2 L1741.1,185.0 L1741.5,180.9 L1741.9,176.7 L1742.2,172.6 L1742.6,168.4 L1742.9,164.3 L1743.3,160.1 L1743.6,156.0 L1743.9,151.8 L1744.3,147.7 L1744.6,143.5 L1745.0,139.4 L1745.3,135.2 L1745.6,131.1 L1746.0,126.9 L1746.3,122.8 L1746.6,118.6 L1747.0,114.5 L1747.3,110.3 L1747.6,106.2 L1747.9,102.0 L1748.3,97.8 L1748.6,93.7 L1748.9,89.5 L1749.2,85.4 L1749.5,81.2 L1749.8,77.1 L1750.2,72.9 L1750.5,68.8 L1750.8,64.6 L1751.1,60.5 L1751.4,56.3 L1751.7,52.2 L1752.0,48.0" stroke="#00FF00" stroke-width="9.0"/>
<path d="M424.0,1555.0 L428.0,1554.9 L432.0,1554.8 L435.9,1554.6 L439.9,1554.5 L443.9,1554.4 L447.9,1554.3 L451.8,1554.2 L455.8,1554.0 L459.8,1553.9 L463.8,1553.8 L467.8,1553.7 L471.7,1553.6 L475.7,1553.5 L479.7,1553.4 L483.7,1553.3 L487.7,1553.2 L491.6,1553.1 L495.6,1553.0 L499.6,1552.9 L503.6,1552.8 L507.6,1552.7 L511.5,1552.6 L515.5,1552.5 L519.5,1552.4 L523.5,1552.3 L527.5,1552.2 L531.4,1552.1 L535.4,1552.0 L539.4,1551.9 L543.4,1551.8 L547.4,1551.7 L551.3,1551.6 L555.3,1551.5 L559.3,1551.4 L563.3,1551.3 L567.3,1551.2 L571.2,1551.1 L575.2,1551.0 L579.2,1550.9 L583.2,1550.8 L587.2,1550.7 L591.1,1550.6 L595.1,1550.5 L599.1,1550.4 L603.1,1550.3 L607.1,1550.2 L611.0,1550.1 L615.0,1550.0 L619.0,1549.8 L623.0,1549.7 L627.0,1549.6 L630.9,1549.5 L634.9,1549.4 L638.9,1549.3 L642.9,1549.2 L646.8,1549.1 L650.8,1548.9 L654.8,1548.8 L658.8,1548.7 L662.8,1548.6 L666.7,1548.5 L670.7,1548.3 L674.7,1548.2 L678.7,1548.1 L682.6,1547.9 L686.6,1547.8 L690.6,1547.7 L694.6,1547.5 L698.6,1547.4 L702.5,1547.2 L706.5,1547.1 L710.5,1546.9 L714.5,1546.8 L718.4,1546.6 L722.4,1546.5 L726.4,1546.3 L730.4,1546.1 L734.3,1546.0 L738.3,1545.8 L742.3,1545.6 L746.3,1545.5 L750.3,1545.3 L754.2,1545.1 L758.2,1544.9 L762.2,1544.7 L766.2,1544.5 L770.1,1544.3 L774.1,1544.1 L778.1,1543.9 L782.0,1543.7 L786.0,1543.5 L790.0,1543.3 L794.0,1543.1 L797.9,1542.9 L801.9,1542.7 L805.9,1542.5 L809.9,1542.3 L813.8,1542.1 L817.8,1541.9 L821.8,1541.7 L825.8,1541.5 L829.8,1541.3 L833.7,1541.1 L837.7,1541.0 L841.7,1540.8 L845.7,1540.6 L849.7,1540.5 L853.6,1540.3 L857.6,1540.2 L861.6,1540.0 L865.6,1539.9 L869.6,1539.8 L873.6,1539.6 L877.6,1539.5 L881.6,1539.4 L885.5,1539.3 L889.5,1539.2 L893.5,1539.0 L897.5,1538.9 L901.5,1538.8 L905.5,1538.6 L909.5,1538.5 L913.4,1538.3 L917.4,1538.1 L921.4,1537.9 L925.4,1537.7 L929.3,1537.5 L933.3,1537.3 L937.3,1537.0 L941.2,1536.7 L945.2,1536.4 L949.2,1536.1 L953.1,1535.8 L957.1,1535.4 L961.0,1535.0 L965.0,1534.6 L968.9,1534.2 L972.8,1533.8 L976.8,1533.4 L980.7,1532.9 L984.7,1532.5 L988.6,1532.0 L992.5,1531.5 L996.5,1531.0 L1000.4,1530.5 L1004.3,1529.9 L1008.2,1529.4 L1012.2,1528.8 L1016.1,1528.2 L1020.0,1527.6 L1023.9,1527.0 L1027.8,1526.4 L1031.8,1525.8 L1035.7,1525.1 L1039.6,1524.5 L1043.5,1523.8 L1047.4,1523.2 L1051.4,1522.5 L1055.3,1521.8 L1059.2,1521.1 L1063.1,1520.4 L1067.0,1519.7 L1070.9,1518.9 L1074.8,1518.2 L1078.8,1517.5 L1082.7,1516.7 L1086.6,1515.9 L1090.5,1515.2 L1094.4,1514.4 L1098.3,1513.6 L1102.2,1512.8 L1106.1,1512.0 L1110.1,1511.2 L1114.0,1510.3 L1117.9,1509.5 L1121.8,1508.6 L1125.7,1507.7 L1129.5,1506.8 L1133.4,1505.9 L1137.3,1505.0 L1141.2,1504.1 L1145.1,1503.1 L1148.9,1502.1 L1152.8,1501.1 L1156.6,1500.1 L1160.5,1499.1 L1164.3,1498.0 L1168.2,1496.9 L1172.0,1495.8 L1175.8,1494.7 L1179.6,1493.6 L1183.4,1492.4 L1187.2,1491.2 L1191.0,1490.0 L1194.8,1488.7 L1198.5,1487.5 L1202.3,1486.2 L1206.0,1484.8 L1209.7,1483.5 L1213.5,1482.1 L1217.2,1480.7 L1220.9,1479.3 L1224.5,1477.8 L1228.2,1476.3 L1231.9,1474.7 L1235.5,1473.2 L1239.1,1471.6 L1242.7,1470.0 L1246.3,1468.3 L1249.9,1466.6 L1253.5,1464.9 L1257.1,1463.2 L1260.6,1461.4 L1264.2,1459.6 L1267.7,1457.8 L1271.2,1455.9 L1274.7,1454.0 L1278.2,1452.1 L1281.6,1450.2 L1285.1,1448.2 L1288.5,1446.2 L1291.9,1444.2 L1295.3,1442.2 L1298.7,1440.1 L1302.1,1438.0 L1305.5,1435.9 L1308.8,1433.8 L1312.2,1431.6 L1315.5,1429.4 L1318.8,1427.2 L1322.1,1424.9 L1325.4,1422.6 L1328.6,1420.4 L1331.9,1418.0 L1335.1,1415.7 L1338.3,1413.3 L1341.5,1410.9 L1344.7,1408.5 L1347.9,1406.1 L1351.0,1403.6 L1354.1,1401.1 L1357.2,1398.6 L1360.3,1396.1 L1363.4,1393.5 L1366.4,1390.9 L1369.4,1388.3 L1372.4,1385.7 L1375.4,1383.0 L1378.4,1380.3 L1381.3,1377.6 L1384.2,1374.9 L1387.1,1372.1 L1389.9,1369.3 L1392.7,1366.5 L1395.5,1363.7 L1398.2,1360.8 L1401.0,1357.9 L1403.6,1355.0 L1406.3,1352.0 L1408.9,1349.1 L1411.5,1346.1 L1414.1,1343.0 L1416.6,1340.0 L1419.1,1336.9 L1421.5,1333.8 L1423.9,1330.7 L1426.3,1327.5 L1428.6,1324.3 L1430.9,1321.1 L1433.2,1317.9 L1435.4,1314.6 L1437.6,1311.3 L1439.7,1308.0 L1441.8,1304.7 L1443.8,1301.3 L1445.8,1297.9 L1447.8,1294.5 L1449.7,1291.0 L1451.6,1287.5 L1453.5,1284.0 L1455.3,1280.5 L1457.1,1277.0 L1458.9,1273.5 L1460.7,1269.9 L1462.4,1266.3 L1464.1,1262.7 L1465.7,1259.1 L1467.4,1255.5 L1469.0,1251.8 L1470.7,1248.2 L1472.3,1244.5 L1473.8,1240.9 L1475.4,1237.2 L1477.0,1233.5 L1478.5,1229.8 L1480.0,1226.1 L1481.6,1222.4 L1483.1,1218.7 L1484.6,1215.0 L1486.1,1211.3 L1487.6,1207.6 L1489.1,1203.9 L1490.6,1200.2 L1492.1,1196.5 L1493.6,1192.8 L1495.1,1189.1 L1496.6,1185.4 L1498.1,1181.7 L1499.6,1178.0 L1501.1,1174.3 L1502.6,1170.6 L1504.1,1166.9 L1505.6,1163.2 L1507.1,1159.5 L1508.6,1155.8 L1510.1,1152.1 L1511.6,1148.4 L1513.1,1144.7 L1514.5,1141.0 L1516.0,1137.4 L1517.5,1133.7 L1518.9,1130.0 L1520.4,1126.3 L1521.8,1122.6 L1523.3,1118.9 L1524.7,1115.2 L1526.1,1111.5 L1527.6,1107.8 L1529.0,1104.0 L1530.4,1100.3 L1531.8,1096.6 L1533.1,1092.9 L1534.5,1089.2 L1535.9,1085.4 L1537.2,1081.7 L1538.5,1078.0 L1539.9,1074.2 L1541.2,1070.5 L1542.5,1066.8 L1543.8,1063.0 L1545.0,1059.2 L1546.3,1055.5 L1547.5,1051.7 L1548.7,1047.9 L1549.9,1044.1 L1551.1,1040.4 L1552.3,1036.6 L1553.5,1032.8 L1554.6,1029.0 L1555.8,1025.2 L1556.9,1021.4 L1558.0,1017.5 L1559.1,1013.7 L1560.2,1009.9 L1561.3,1006.1 L1562.3,1002.2 L1563.4,998.4 L1564.4,994.5 L1565.4,990.7 L1566.5,986.8 L1567.5,983.0 L1568.5,979.1 L1569.4,975.3 L1570.4,971.4 L1571.4,967.5 L1572.3,963.7 L1573.3,959.8 L1574.2,955.9 L1575.1,952.1 L1576.0,948.2 L1576.9,944.3 L1577.8,940.4 L1578.7,936.5 L1579.6,932.6 L1580.5,928.7 L1581.4,924.8 L1582.2,921.0 L1583.1,917.1 L1583.9,913.2 L1584.8,909.3 L1585.6,905.4 L1586.4,901.5 L1587.3,897.6 L1588.1,893.7 L1588.9,889.8 L1589.7,885.9 L1590.5,882.0 L1591.3,878.1 L1592.1,874.2 L1592.9,870.3 L1593.7,866.4 L1594.5,862.4 L1595.3,858.5 L1596.0,854.6 L1596.8,850.7 L1597.6,846.8 L1598.3,842.9 L1599.1,839.0 L1599.8,835.1 L1600.6,831.2 L1601.3,827.3 L1602.0,823.4 L1602.8,819.4 L1603.5,815.5 L1604.2,811.6 L1604.9,807.7 L1605.7,803.8 L1606.4,799.9 L1607.1,796.0 L1607.8,792.0 L1608.5,788.1 L1609.2,784.2 L1609.9,780.3 L1610.6,776.4 L1611.3,772.5 L1612.0,768.5 L1612.6,764.6 L1613.3,760.7 L1614.0,756.8 L1614.7,752.9 L1615.4,748.9 L1616.0,745.0 L1616.7,741.1 L1617.4,737.2 L1618.0,733.2 L1618.7,729.3 L1619.4,725.4 L1620.0,721.5 L1620.7,717.6 L1621.3,713.6 L1622.0,709.7 L1622.6,705.8 L1623.3,701.9 L1623.9,697.9 L1624.6,694.0 L1625.2,690.1 L1625.9,686.1 L1626.5,682.2 L1627.1,678.3 L1627.8,674.4 L1628.4,670.4 L1629.0,666.5 L1629.7,662.6 L1630.3,658.7 L1631.0,654.7 L1631.6,650.8 L1632.2,646.9 L1632.9,642.9 L1633.5,639.0 L1634.1,635.1 L1634.7,631.2 L1635.4,627.2 L1636.0,623.3 L1636.6,619.4 L1637.3,615.4 L1637.9,611.5 L1638.5,607.6 L1639.2,603.7 L1639.8,599.7 L1640.4,595.8 L1641.0,591.9 L1641.7,587.9 L1642.3,584.0 L1642.9,580.1 L1643.6,576.1 L1644.2,572.2 L1644.8,568.3 L1645.4,564.3 L1646.1,560.4 L1646.7,556.5 L1647.3,552.6 L1647.9,548.6 L1648.6,544.7 L1649.2,540.8 L1649.8,536.8 L1650.4,532.9 L1651.1,529.0 L1651.7,525.0 L1652.3,521.1 L1652.9,517.2 L1653.6,513.2 L1654.2,509.3 L1654.8,505.4 L1655.4,501.4 L1656.0,497.5 L1656.7,493.6 L1657.3,489.6 L1657.9,485.7 L1658.5,481.8 L1659.1,477.8 L1659.7,473.9 L1660.4,470.0 L1661.0,466.0 L1661.6,462.1 L1662.2,458.2 L1662.8,454.2 L1663.4,450.3 L1664.0,446.4 L1664.6,442.4 L1665.2,438.5 L1665.9,434.6 L1666.5,430.6 L1667.1,426.7 L1667.7,422.8 L1668.3,418.8 L1668.9,414.9 L1669.5,411.0 L1670.1,407.0 L1670.7,403.1 L1671.3,399.1 L1671.9,395.2 L1672.5,391.3 L1673.1,387.3 L1673.7,383.4 L1674.2,379.5 L1674.8,375.5 L1675.4,371.6 L1676.0,367.6 L1676.6,363.7 L1677.2,359.8 L1677.8,355.8 L1678.4,351.9 L1678.9,348.0 L1679.5,344.0 L1680.1,340.1 L1680.7,336.1 L1681.3,332.2 L1681.8,328.3 L1682.4,324.3 L1683.0,320.4 L1683.5,316.4 L1684.1,312.5 L1684.7,308.6 L1685.3,304.6 L1685.8,300.7 L1686.4,296.7 L1686.9,292.8 L1687.5,288.9 L1688.1,284.9 L1688.6,281.0 L1689.2,277.0 L1689.7,273.1 L1690.3,269.1 L1690.8,265.2 L1691.4,261.3 L1691.9,257.3 L1692.5,253.4 L1693.0,249.4 L1693.6,245.5 L1694.1,241.5 L1694.6,237.6 L1695.2,233.7 L1695.7,229.7 L1696.3,225.8 L1696.8,221.8 L1697.3,217.9 L1697.8,213.9 L1698.4,210.0 L1698.9,206.0 L1699.4,202.1 L1699.9,198.1 L1700.5,194.2 L1701.0,190.3 L1701.5,186.3 L1702.0,182.4 L1702.5,178.4 L1703.0,174.5 L1703.5,170.5 L1704.0,166.6 L1704.5,162.6 L1705.0,158.7 L1705.5,154.7 L1706.0,150.8 L1706.5,146.8 L1707.0,142.9 L1707.5,138.9 L1708.0,135.0 L1708.5,131.0 L1708.9,127.1 L1709.4,123.1 L1709.9,119.2 L1710.4,115.2 L1710.8,111.3 L1711.3,107.3 L1711.8,103.4 L1712.2,99.4 L1712.7,95.5 L1713.2,91.5 L1713.6,87.6 L1714.1,83.6 L1714.5,79.6 L1715.0,75.7 L1715.4,71.7 L1715.9,67.8 L1716.3,63.8 L1716.8,59.9 L1717.2,55.9 L1717.6,52.0 L1718.1,48.0" stroke="#0000FF" stroke-width="9.0"/>
<path d="M424.0,1548.5 L428.0,1548.4 L431.9,1548.3 L435.9,1548.2 L439.9,1548.1 L443.8,1548.0 L447.8,1547.9 L451.8,1547.8 L455.7,1547.7 L459.7,1547.6 L463.7,1547.5 L467.6,1547.4 L471.6,1547.3 L475.6,1547.2 L479.6,1547.1 L483.5,1547.0 L487.5,1546.9 L491.5,1546.8 L495.4,1546.7 L499.4,1546.5 L503.4,1546.4 L507.3,1546.3 L511.3,1546.2 L515.3,1546.0 L519.2,1545.9 L523.2,1545.8 L527.2,1545.7 L531.1,1545.5 L535.1,1545.4 L539.1,1545.3 L543.0,1545.1 L547.0,1545.0 L551.0,1544.9 L554.9,1544.7 L558.9,1544.6 L562.9,1544.5 L566.8,1544.3 L570.8,1544.2 L574.8,1544.0 L578.7,1543.9 L582.7,1543.8 L586.7,1543.6 L590.6,1543.5 L594.6,1543.3 L598.6,1543.2 L602.5,1543.1 L606.5,1542.9 L610.5,1542.8 L614.4,1542.6 L618.4,1542.5 L622.4,1542.3 L626.3,1542.2 L630.3,1542.0 L634.3,1541.9 L638.2,1541.7 L642.2,1541.6 L646.2,1541.5 L650.1,1541.3 L654.1,1541.2 L658.1,1541.0 L662.0,1540.9 L666.0,1540.7 L670.0,1540.6 L673.9,1540.5 L677.9,1540.3 L681.9,1540.2 L685.8,1540.0 L689.8,1539.9 L693.8,1539.7 L697.7,1539.6 L701.7,1539.5 L705.7,1539.3 L709.6,1539.2 L713.6,1539.1 L717.6,1538.9 L721.6,1538.8 L725.5,1538.7 L729.5,1538.5 L733.5,1538.4 L737.4,1538.3 L741.4,1538.1 L745.4,1538.0 L749.3,1537.9 L753.3,1537.8 L757.3,1537.6 L761.2,1537.5 L765.2,1537.4 L769.2,1537.3 L773.1,1537.2 L777.1,1537.0 L781.1,1536.9 L785.0,1536.8 L789.0,1536.7 L793.0,1536.6 L796.9,1536.5 L800.9,1536.4 L804.9,1536.3 L808.8,1536.1 L812.8,1536.0 L816.8,1535.9 L820.7,1535.8 L824.7,1535.7 L828.7,1535.6 L832.6,1535.5 L836.6,1535.4 L840.6,1535.2 L844.5,1535.1 L848.5,1535.0 L852.5,1534.9 L856.4,1534.8 L860.4,1534.6 L864.4,1534.5 L868.3,1534.4 L872.3,1534.2 L876.3,1534.1 L880.2,1534.0 L884.2,1533.8 L888.2,1533.7 L892.1,1533.6 L896.1,1533.4 L900.1,1533.3 L904.0,1533.1 L908.0,1532.9 L912.0,1532.8 L915.9,1532.6 L919.9,1532.4 L923.9,1532.3 L927.8,1532.1 L931.8,1531.9 L935.8,1531.7 L939.7,1531.5 L943.7,1531.3 L947.6,1531.1 L951.6,1530.9 L955.6,1530.7 L959.5,1530.5 L963.5,1530.2 L967.5,1530.0 L971.4,1529.8 L975.4,1529.5 L979.3,1529.3 L983.3,1529.0 L987.3,1528.7 L991.2,1528.5 L995.2,1528.2 L999.1,1527.9 L1003.1,1527.6 L1007.0,1527.3 L1011.0,1527.0 L1015.0,1526.7 L1018.9,1526.4 L1022.9,1526.0 L1026.8,1525.7 L1030.8,1525.3 L1034.7,1525.0 L1038.7,1524.6 L1042.6,1524.2 L1046.6,1523.9 L1050.5,1523.5 L1054.5,1523.1 L1058.5,1522.6 L1062.4,1522.2 L1066.4,1521.8 L1070.3,1521.3 L1074.3,1520.9 L1078.2,1520.4 L1082.1,1519.9 L1086.1,1519.5 L1090.0,1519.0 L1094.0,1518.4 L1097.9,1517.9 L1101.8,1517.3 L1105.8,1516.8 L1109.7,1516.2 L1113.6,1515.6 L1117.5,1514.9 L1121.5,1514.3 L1125.4,1513.6 L1129.3,1512.9 L1133.2,1512.2 L1137.1,1511.5 L1141.0,1510.7 L1144.8,1510.0 L1148.7,1509.2 L1152.6,1508.3 L1156.5,1507.5 L1160.3,1506.6 L1164.2,1505.7 L1168.0,1504.7 L1171.8,1503.8 L1175.7,1502.8 L1179.5,1501.7 L1183.3,1500.7 L1187.1,1499.6 L1190.9,1498.5 L1194.7,1497.3 L1198.5,1496.1 L1202.2,1494.9 L1206.0,1493.6 L1209.7,1492.3 L1213.5,1491.0 L1217.2,1489.6 L1220.9,1488.2 L1224.6,1486.8 L1228.3,1485.3 L1232.0,1483.8 L1235.6,1482.3 L1239.3,1480.7 L1242.9,1479.1 L1246.5,1477.5 L1250.1,1475.8 L1253.7,1474.1 L1257.3,1472.4 L1260.8,1470.6 L1264.3,1468.8 L1267.9,1466.9 L1271.4,1465.1 L1274.8,1463.1 L1278.3,1461.2 L1281.7,1459.2 L1285.2,1457.2 L1288.6,1455.2 L1291.9,1453.1 L1295.3,1451.0 L1298.6,1448.8 L1301.9,1446.6 L1305.2,1444.4 L1308.5,1442.2 L1311.8,1439.9 L1315.0,1437.6 L1318.2,1435.2 L1321.3,1432.9 L1324.5,1430.5 L1327.6,1428.0 L1330.7,1425.5 L1333.8,1423.0 L1336.8,1420.5 L1339.8,1417.9 L1342.8,1415.3 L1345.8,1412.7 L1348.7,1410.0 L1351.7,1407.3 L1354.5,1404.6 L1357.4,1401.9 L1360.2,1399.1 L1363.0,1396.3 L1365.8,1393.5 L1368.6,1390.6 L1371.3,1387.7 L1374.0,1384.8 L1376.7,1381.9 L1379.3,1378.9 L1381.9,1375.9 L1384.5,1372.9 L1387.1,1369.9 L1389.6,1366.8 L1392.1,1363.8 L1394.6,1360.6 L1397.0,1357.5 L1399.4,1354.4 L1401.8,1351.2 L1404.1,1348.0 L1406.5,1344.8 L1408.8,1341.6 L1411.0,1338.3 L1413.3,1335.0 L1415.5,1331.7 L1417.7,1328.4 L1419.8,1325.1 L1421.9,1321.7 L1424.0,1318.4 L1426.1,1315.0 L1428.1,1311.6 L1430.1,1308.2 L1432.0,1304.7 L1434.0,1301.3 L1435.9,1297.8 L1437.8,1294.3 L1439.6,1290.8 L1441.5,1287.3 L1443.3,1283.8 L1445.0,1280.3 L1446.8,1276.7 L1448.5,1273.2 L1450.3,1269.6 L1451.9,1266.0 L1453.6,1262.4 L1455.3,1258.8 L1456.9,1255.2 L1458.5,1251.6 L1460.1,1247.9 L1461.7,1244.3 L1463.2,1240.6 L1464.8,1237.0 L1466.3,1233.3 L1467.8,1229.6 L1469.3,1226.0 L1470.8,1222.3 L1472.2,1218.6 L1473.7,1214.9 L1475.1,1211.2 L1476.5,1207.5 L1478.0,1203.8 L1479.4,1200.1 L1480.8,1196.3 L1482.1,1192.6 L1483.5,1188.9 L1484.9,1185.2 L1486.2,1181.4 L1487.6,1177.7 L1488.9,1174.0 L1490.3,1170.2 L1491.6,1166.5 L1492.9,1162.7 L1494.2,1159.0 L1495.5,1155.3 L1496.8,1151.5 L1498.0,1147.7 L1499.3,1144.0 L1500.6,1140.2 L1501.8,1136.5 L1503.1,1132.7 L1504.3,1128.9 L1505.5,1125.1 L1506.7,1121.4 L1507.9,1117.6 L1509.1,1113.8 L1510.3,1110.0 L1511.5,1106.2 L1512.7,1102.5 L1513.9,1098.7 L1515.0,1094.9 L1516.2,1091.1 L1517.3,1087.3 L1518.5,1083.5 L1519.6,1079.7 L1520.7,1075.9 L1521.8,1072.1 L1523.0,1068.3 L1524.1,1064.5 L1525.2,1060.6 L1526.3,1056.8 L1527.4,1053.0 L1528.4,1049.2 L1529.5,1045.4 L1530.6,1041.6 L1531.7,1037.7 L1532.7,1033.9 L1533.8,1030.1 L1534.8,1026.3 L1535.9,1022.4 L1536.9,1018.6 L1537.9,1014.8 L1539.0,1010.9 L1540.0,1007.1 L1541.0,1003.3 L1542.0,999.4 L1543.0,995.6 L1544.0,991.7 L1545.0,987.9 L1546.0,984.0 L1547.0,980.2 L1548.0,976.4 L1549.0,972.5 L1550.0,968.7 L1550.9,964.8 L1551.9,961.0 L1552.9,957.1 L1553.8,953.3 L1554.8,949.4 L1555.7,945.5 L1556.7,941.7 L1557.7,937.8 L1558.6,934.0 L1559.5,930.1 L1560.5,926.3 L1561.4,922.4 L1562.4,918.5 L1563.3,914.7 L1564.2,910.8 L1565.2,907.0 L1566.1,903.1 L1567.0,899.2 L1567.9,895.4 L1568.9,891.5 L1569.8,887.6 L1570.7,883.8 L1571.6,879.9 L1572.5,876.1 L1573.4,872.2 L1574.3,868.3 L1575.3,864.5 L1576.2,860.6 L1577.1,856.7 L1578.0,852.9 L1578.9,849.0 L1579.8,845.1 L1580.6,841.2 L1581.5,837.4 L1582.4,833.5 L1583.3,829.6 L1584.2,825.8 L1585.1,821.9 L1585.9,818.0 L1586.8,814.1 L1587.7,810.3 L1588.5,806.4 L1589.4,802.5 L1590.3,798.7 L1591.1,794.8 L1592.0,790.9 L1592.8,787.0 L1593.7,783.1 L1594.5,779.3 L1595.3,775.4 L1596.2,771.5 L1597.0,767.6 L1597.8,763.7 L1598.7,759.9 L1599.5,756.0 L1600.3,752.1 L1601.1,748.2 L1601.9,744.3 L1602.7,740.4 L1603.5,736.6 L1604.3,732.7 L1605.1,728.8 L1605.9,724.9 L1606.7,721.0 L1607.5,717.1 L1608.2,713.2 L1609.0,709.3 L1609.8,705.4 L1610.5,701.6 L1611.3,697.7 L1612.1,693.8 L1612.8,689.9 L1613.5,686.0 L1614.3,682.1 L1615.0,678.2 L1615.8,674.3 L1616.5,670.4 L1617.2,666.5 L1617.9,662.6 L1618.6,658.7 L1619.3,654.8 L1620.0,650.9 L1620.7,647.0 L1621.4,643.1 L1622.1,639.2 L1622.8,635.3 L1623.5,631.3 L1624.1,627.4 L1624.8,623.5 L1625.5,619.6 L1626.1,615.7 L1626.8,611.8 L1627.4,607.9 L1628.0,604.0 L1628.7,600.0 L1629.3,596.1 L1629.9,592.2 L1630.5,588.3 L1631.2,584.4 L1631.8,580.5 L1632.4,576.5 L1633.0,572.6 L1633.6,568.7 L1634.1,564.8 L1634.7,560.8 L1635.3,556.9 L1635.9,553.0 L1636.5,549.1 L1637.0,545.1 L1637.6,541.2 L1638.1,537.3 L1638.7,533.4 L1639.2,529.4 L1639.8,525.5 L1640.3,521.6 L1640.9,517.6 L1641.4,513.7 L1641.9,509.8 L1642.4,505.8 L1643.0,501.9 L1643.5,498.0 L1644.0,494.0 L1644.5,490.1 L1645.0,486.2 L1645.5,482.2 L1646.0,478.3 L1646.5,474.3 L1647.0,470.4 L1647.5,466.5 L1648.0,462.5 L1648.5,458.6 L1648.9,454.7 L1649.4,450.7 L1649.9,446.8 L1650.4,442.8 L1650.8,438.9 L1651.3,434.9 L1651.8,431.0 L1652.2,427.1 L1652.7,423.1 L1653.1,419.2 L1653.6,415.2 L1654.0,411.3 L1654.5,407.3 L1654.9,403.4 L1655.4,399.4 L1655.8,395.5 L1656.2,391.5 L1656.7,387.6 L1657.1,383.6 L1657.5,379.7 L1658.0,375.7 L1658.4,371.8 L1658.8,367.8 L1659.2,363.9 L1659.7,359.9 L1660.1,356.0 L1660.5,352.0 L1660.9,348.1 L1661.3,344.1 L1661.7,340.2 L1662.1,336.2 L1662.6,332.3 L1663.0,328.3 L1663.4,324.4 L1663.8,320.4 L1664.2,316.5 L1664.6,312.5 L1665.0,308.6 L1665.4,304.6 L1665.8,300.7 L1666.2,296.7 L1666.6,292.8 L1667.0,288.8 L1667.4,284.9 L1667.8,280.9 L1668.2,277.0 L1668.6,273.0 L1669.0,269.1 L1669.4,265.1 L1669.8,261.2 L1670.2,257.2 L1670.6,253.2 L1671.0,249.3 L1671.4,245.3 L1671.7,241.4 L1672.1,237.4 L1672.5,233.5 L1672.9,229.5 L1673.3,225.6 L1673.7,221.6 L1674.1,217.7 L1674.5,213.7 L1674.9,209.8 L1675.3,205.8 L1675.7,201.9 L1676.1,197.9 L1676.5,194.0 L1676.9,190.0 L1677.3,186.1 L1677.7,182.1 L1678.1,178.2 L1678.5,174.2 L1678.9,170.3 L1679.3,166.3 L1679.7,162.4 L1680.1,158.4 L1680.5,154.5 L1680.9,150.5 L1681.3,146.6 L1681.7,142.6 L1682.1,138.7 L1682.6,134.7 L1683.0,130.8 L1683.4,126.8 L1683.8,122.9 L1684.2,119.0 L1684.6,115.0 L1685.1,111.1 L1685.5,107.1 L1685.9,103.2 L1686.3,99.2 L1686.8,95.3 L1687.2,91.4 L1687.6,87.4 L1688.1,83.5 L1688.5,79.5 L1689.0,75.6 L1689.4,71.6 L1689.9,67.7 L1690.3,63.8 L1690.8,59.8 L1691.2,55.9 L1691.7,52.0 L1692.1,48.0" stroke="#FF00FF" stroke-width="9.0"/>
</g>
<line x1="1858.5" y1="1000.0" x2="1807.5" y2="1545.6" stroke="#000000" stroke-width="6.5"/>
<polygon points="1802.8,1596.4 1795.6,1542.5 1819.9,1544.8" fill="#000000"/>
<line x1="1736.0" y1="330.0" x2="1604.4" y2="1541.8" stroke="#FF0000" stroke-width="6.5"/>
<polygon points="1598.9,1592.5 1592.5,1538.5 1616.8,1541.1" fill="#FF0000"/>
<line x1="1687.3" y1="700.0" x2="1545.0" y2="1536.7" stroke="#00FF00" stroke-width="6.5"/>
<polygon points="1536.5,1587.0 1533.4,1532.7 1557.4,1536.8" fill="#00FF00"/>
<line x1="1620.0" y1="697.0" x2="1489.7" y2="1548.6" stroke="#0000FF" stroke-width="6.5"/>
<polygon points="1482.0,1599.0 1478.0,1544.8 1502.1,1548.5" fill="#0000FF"/>
<line x1="1581.0" y1="821.0" x2="1408.5" y2="1551.3" stroke="#FF00FF" stroke-width="6.5"/>
<polygon points="1396.8,1600.9 1397.1,1546.5 1420.9,1552.1" fill="#FF00FF"/>
<path d="M989.4,1270.8 Q1179.0,1396.5 1362.3,1546.8" fill="none" stroke="#000" stroke-width="6.3"/><polygon points="1397.9,1576.0 1352.5,1555.6 1369.0,1535.5" fill="#000"/>
<path d="M1021.0,1015.8 Q1308.3,1346.2 1452.6,1525.8" fill="none" stroke="#000" stroke-width="6.3"/><polygon points="1481.4,1561.7 1441.2,1532.4 1461.5,1516.1" fill="#000"/>
<path d="M1219.5,934.3 L1521.8,1527.0" fill="none" stroke="#000" stroke-width="6.3"/><polygon points="1542.7,1568.0 1509.3,1531.1 1532.5,1519.3" fill="#000"/>
<path d="M1933.7,1267.5 Q1722.0,1457.0 1635.4,1541.4" fill="none" stroke="#000" stroke-width="6.3"/><polygon points="1602.5,1573.5 1627.8,1530.7 1645.9,1549.3" fill="#000"/>
<text class="s" x="422.5" y="1677" font-size="71" text-anchor="middle">2.0</text>
<text class="s" x="802.7" y="1677" font-size="71" text-anchor="middle">2.5</text>
<text class="s" x="1182.9" y="1677" font-size="71" text-anchor="middle">3.0</text>
<text class="s" x="1563.1" y="1677" font-size="71" text-anchor="middle">3.5</text>
<text class="s" x="1943.3" y="1677" font-size="71" text-anchor="middle">4.0</text>
<text class="s" x="2323.5" y="1677" font-size="71" text-anchor="middle">4.5</text>
<text class="s" x="372" y="1594.0" font-size="65" text-anchor="end">0.0</text>
<text class="s" x="372" y="1092.9" font-size="65" text-anchor="end">1.0&#215;10<tspan font-size="44" dy="-29">-4</tspan></text>
<text class="s" x="372" y="583.4" font-size="65" text-anchor="end">2.0&#215;10<tspan font-size="44" dy="-29">-4</tspan></text>
<text class="s" x="372" y="73.8" font-size="65" text-anchor="end">3.0&#215;10<tspan font-size="44" dy="-29">-4</tspan></text>
<text class="s" x="1046" y="1772.6" font-size="71">Photon energy <tspan font-weight="normal" font-size="61">(</tspan><tspan dx="3.4">eV)</tspan></text>
<g transform="translate(101,1050) rotate(-90)"><text class="s" font-size="71" x="0.5" y="0">(</text><text font-family="Liberation Serif,serif" font-size="71" transform="translate(25.5,0) scale(1.22,0.89)">&#945;</text><text class="s" font-size="71" x="70.5" y="0">h</text><text font-family="Liberation Serif,serif" font-size="71" transform="translate(114.5,0) scale(1.05,0.89)">&#957;</text><text class="s" font-size="71" transform="translate(151.0,0) scale(1.016,1)">)<tspan font-size="50" dy="-33">2</tspan><tspan dy="33">(eV</tspan><tspan font-size="50" dy="-33">2</tspan><tspan dy="33">m</tspan><tspan font-size="50" dy="-33">-2</tspan><tspan dy="33">)</tspan></text></g>
<line x1="466" y1="124.7" x2="625" y2="124.7" stroke="#000000" stroke-width="9"/>
<text class="t" x="638" y="149.0" font-size="73">MoO<tspan font-size="82" dy="19">3</tspan><tspan dy="-19"></tspan></text>
<line x1="466" y1="239.2" x2="625" y2="239.2" stroke="#FF0000" stroke-width="9"/>
<text class="t" x="638" y="263.5" font-size="73">MoO<tspan font-size="82" dy="19">3</tspan><tspan dy="-19">:Ce 1% Cu 1%</tspan></text>
<line x1="466" y1="353.7" x2="625" y2="353.7" stroke="#00FF00" stroke-width="9"/>
<text class="t" x="638" y="378.0" font-size="73">MoO<tspan font-size="82" dy="19">3</tspan><tspan dy="-19">:Ce 1% Cu 2%</tspan></text>
<line x1="466" y1="468.2" x2="625" y2="468.2" stroke="#0000FF" stroke-width="9"/>
<text class="t" x="638" y="492.5" font-size="73">MoO<tspan font-size="82" dy="19">3</tspan><tspan dy="-19">:Ce 2% Cu1%</tspan></text>
<line x1="466" y1="582.7" x2="625" y2="582.7" stroke="#FF00FF" stroke-width="9"/>
<text class="t" x="638" y="607.0" font-size="73">MoO<tspan font-size="82" dy="19">3</tspan><tspan dy="-19">:Ce 2% Cu 2%</tspan></text>
<text class="s" x="810.0" y="1243.5" font-size="66">3.28 eV</text>
<text class="s" x="876.5" y="994.5" font-size="66">3.39 eV</text>
<text class="s" x="1110.0" y="913.5" font-size="66">3.47 eV</text>
<text class="s" x="1933.0" y="1268.5" font-size="66">3.55 eV</text>
<text class="s" x="1846.0" y="1535.5" font-size="66">3.85 eV</text>
</svg></body></html>
